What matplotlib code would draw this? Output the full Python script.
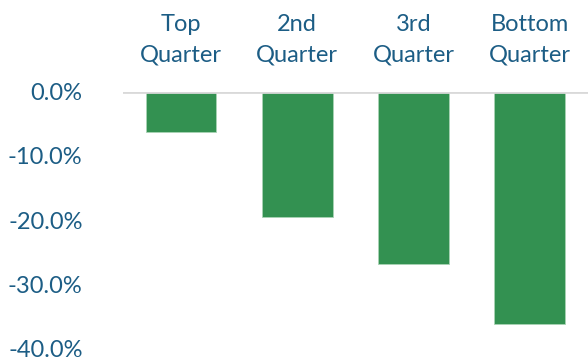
import matplotlib.pyplot as plt
from matplotlib.ticker import FuncFormatter, MultipleLocator
from matplotlib.transforms import blended_transform_factory

# Cambio por cuartil
categorias = ["Top\nQuarter", "2nd\nQuarter", "3rd\nQuarter", "Bottom\nQuarter"]
cambios = [-0.063, -0.195, -0.269, -0.362]

azul = "#1C5D85"
verde = "#339151"

plt.rcParams["font.family"] = ["Lato", "DejaVu Sans"]

fig = plt.figure(figsize=(5.88, 3.6), dpi=100)
ax = fig.add_axes([0.209, 0.032, 0.791, 0.713])

x = list(range(len(categorias)))
ax.bar(x, cambios, width=0.61, color=verde, edgecolor="#A9D3B5", linewidth=0.6, zorder=2)

ax.set_xlim(-0.5, len(categorias) - 0.5)
ax.set_ylim(-0.40, 0)
ax.yaxis.set_major_locator(MultipleLocator(0.10))
ax.yaxis.set_major_formatter(FuncFormatter(lambda v, p: f"{v * 100:.1f}%"))

ax.axhline(0, color="#D9D9D9", linewidth=2, zorder=3)

for s in ax.spines.values():
    s.set_visible(False)
ax.set_xticks([])
ax.tick_params(axis="y", length=0, pad=29, labelsize=17, labelcolor=azul)

# Etiquetas de categoría encima del eje
trans = blended_transform_factory(ax.transData, ax.transAxes)
for xi, nombre in zip(x, categorias):
    ax.text(xi, 1.0 + 52 / 256.7, nombre, transform=trans, ha="center", va="center",
            fontsize=17, color=azul, linespacing=1.6)

fig.savefig("out.png", dpi=100)
plt.close(fig)
